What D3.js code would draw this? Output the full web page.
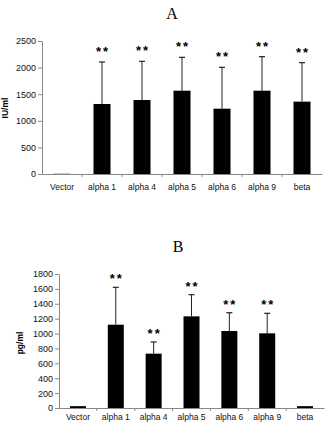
<!DOCTYPE html>
<html>
<head>
<meta charset="utf-8" />
<script src="https://d3js.org/d3.v7.min.js"></script>
<style>
  body { margin: 0; background: #fff; }
  text { font-family: "Liberation Sans", Arial, sans-serif; }
</style>
</head>
<body>
<svg width="330" height="423"></svg>
<script>
  // data
  var groups = ["Vector", "alpha 1", "alpha 4", "alpha 5", "alpha 6", "alpha 9", "beta"];

  var valuesA = [4, 1316, 1391, 1566, 1228, 1566, 1360];
  var errTopA = [null, 2105, 2118, 2193, 2005, 2205, 2093];
  var starsA = [false, true, true, true, true, true, true];
  var ticksA = [0, 500, 1000, 1500, 2000, 2500];

  var valuesB = [25, 1119, 730, 1231, 1034, 1003, 25];
  var errTopB = [null, 1621, 887, 1522, 1280, 1272, null];
  var starsB = [false, true, true, true, true, true, false];
  var ticksB = [0, 200, 400, 600, 800, 1000, 1200, 1400, 1600, 1800];

  var svg = d3.select("svg");

  function drawPanel(cfg) {
    var g = svg.append("g");

    var x = d3.scaleBand().domain(groups).range([cfg.x0, cfg.x1]);
    var y = d3.scaleLinear().domain([0, cfg.max]).range([cfg.y0, cfg.y1]);
    var barW = cfg.barW;

    // title
    g.append("text")
      .attr("x", cfg.titleX)
      .attr("y", cfg.titleY)
      .attr("text-anchor", "middle")
      .style("font-family", "'Liberation Serif', 'Times New Roman', serif")
      .style("font-size", "16px")
      .text(cfg.title);

    // y axis
    var yAxis = g.append("g")
      .attr("transform", "translate(" + cfg.x0 + ",0)")
      .call(d3.axisLeft(y).tickValues(cfg.ticks).tickFormat(d3.format("d"))
        .tickSize(4).tickPadding(2).tickSizeOuter(0));
    yAxis.select(".domain").attr("stroke", "#888");
    yAxis.selectAll(".tick line").attr("stroke", "#888");
    yAxis.selectAll("text").style("font-size", "9px").attr("fill", "#111");

    // x axis
    var xAxis = g.append("g")
      .attr("transform", "translate(0," + cfg.y0 + ")")
      .call(d3.axisBottom(x).tickSize(0).tickPadding(cfg.xPad));
    xAxis.select(".domain").attr("stroke", "#888");
    xAxis.selectAll("text").style("font-size", "8.5px").attr("fill", "#111");
    // category boundary ticks
    g.selectAll(".bt").data(groups.slice(1)).enter().append("line")
      .attr("x1", function (d) { return x(d); })
      .attr("x2", function (d) { return x(d); })
      .attr("y1", cfg.y0)
      .attr("y2", cfg.y0 + 3)
      .attr("stroke", "#888");

    // y label
    g.append("text")
      .attr("transform", "translate(" + cfg.labX + "," + cfg.labY + ") rotate(-90)")
      .attr("text-anchor", "middle")
      .style("font-size", "8.5px")
      .style("font-weight", "bold")
      .text(cfg.label);

    // error bars (upper only)
    var eb = g.selectAll(".err").data(groups).enter().append("g")
      .filter(function (d, i) { return cfg.err[i] != null; });
    eb.append("line")
      .attr("x1", function (d) { return x(d) + x.bandwidth() / 2; })
      .attr("x2", function (d) { return x(d) + x.bandwidth() / 2; })
      .attr("y1", function (d) { return y(cfg.values[groups.indexOf(d)]); })
      .attr("y2", function (d) { return y(cfg.err[groups.indexOf(d)]); })
      .attr("stroke", "#222").attr("stroke-width", 1);
    eb.append("line")
      .attr("x1", function (d) { return x(d) + x.bandwidth() / 2 - 3; })
      .attr("x2", function (d) { return x(d) + x.bandwidth() / 2 + 3; })
      .attr("y1", function (d) { return y(cfg.err[groups.indexOf(d)]); })
      .attr("y2", function (d) { return y(cfg.err[groups.indexOf(d)]); })
      .attr("stroke", "#222").attr("stroke-width", 1.2);

    // bars
    g.selectAll(".bar").data(groups).enter().append("rect")
      .attr("x", function (d) { return x(d) + (x.bandwidth() - barW) / 2; })
      .attr("width", barW)
      .attr("y", function (d, i) { return y(cfg.values[i]); })
      .attr("height", function (d, i) { return cfg.y0 - y(cfg.values[i]); })
      .attr("fill", "#000");

    // significance stars
    g.selectAll(".star").data(groups).enter().append("text")
      .filter(function (d, i) { return cfg.stars[i]; })
      .attr("x", function (d) { return x(d) + x.bandwidth() / 2 + 1; })
      .attr("y", function (d) { return y(cfg.err[groups.indexOf(d)]) - cfg.starGap; })
      .attr("text-anchor", "middle")
      .style("font-size", "13px")
      .style("font-weight", "bold")
      .style("letter-spacing", "2px")
      .text("**");
  }

  drawPanel({
    title: "A", titleX: 172, titleY: 19,
    x0: 42, x1: 322, y0: 174, y1: 41, max: 2500, barW: 17,
    ticks: ticksA, values: valuesA, err: errTopA, stars: starsA,
    label: "IU/ml", labX: 8, labY: 108, xPad: 10, starGap: 6
  });

  drawPanel({
    title: "B", titleX: 178, titleY: 252,
    x0: 59, x1: 324, y0: 408, y1: 274, max: 1800, barW: 16,
    ticks: ticksB, values: valuesB, err: errTopB, stars: starsB,
    label: "pg/ml", labX: 23, labY: 343, xPad: 6, starGap: 4
  });
</script>
</body>
</html>
